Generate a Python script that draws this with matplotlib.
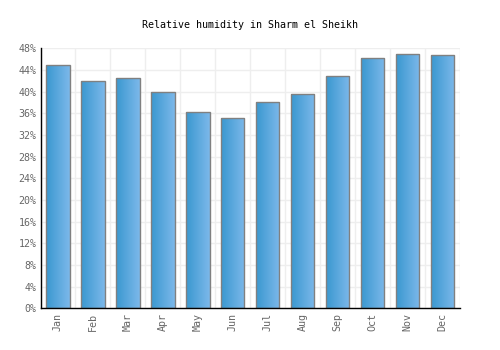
import matplotlib
matplotlib.use("Agg")
import matplotlib.pyplot as plt
import numpy as np
from matplotlib.colors import LinearSegmentedColormap

months = ["Jan", "Feb", "Mar", "Apr", "May", "Jun", "Jul", "Aug", "Sep", "Oct", "Nov", "Dec"]
humidity = [44.9, 41.9, 42.5, 39.9, 36.2, 35.1, 38.0, 39.5, 42.8, 46.2, 46.9, 46.7]
yticks = list(range(0, 49, 4))
ytick_labels = [f"{v}%" for v in yticks]

font = "DejaVu Sans Mono"
fig = plt.figure(figsize=(5, 3.5), dpi=100)
ax = fig.add_axes([0.081, 0.119, 0.839, 0.743])

x = np.arange(len(months))
bars = ax.bar(x, humidity, width=0.67, color="none", edgecolor="#808080", linewidth=1.0, zorder=3)
cmap = LinearSegmentedColormap.from_list("g", ["#3a98d0", "#7cb8ea"])
grad = np.linspace(0, 1, 64).reshape(1, -1)
for b in bars:
    x0, y0 = b.get_x(), b.get_y()
    w, h = b.get_width(), b.get_height()
    im = ax.imshow(grad, cmap=cmap, aspect="auto", extent=[x0, x0 + w, y0, y0 + h], zorder=2, interpolation="bilinear")
    im.set_clip_path(b)

ax.set_xlim(-0.5, 11.5)
ax.set_ylim(0, 48)
ax.set_yticks(yticks)
ax.set_yticklabels(ytick_labels, fontfamily=font, fontsize=7.2, color="#666666")
ax.set_xticks(x)
ax.set_xticklabels(months, rotation=90, fontfamily=font, fontsize=7.2, color="#666666")
ax.set_xticks(np.arange(-0.5, 12, 1), minor=True)
ax.grid(True, which="minor", axis="x", color="#eeeeee", linewidth=1, zorder=0)
ax.grid(True, which="major", axis="y", color="#eeeeee", linewidth=1, zorder=0)
ax.tick_params(axis="both", which="both", length=0, pad=3)
for s in ["top", "right"]:
    ax.spines[s].set_visible(False)
for s in ["left", "bottom"]:
    ax.spines[s].set_color("black")
    ax.spines[s].set_linewidth(1)
    ax.spines[s].set_zorder(4)
ax.set_axisbelow(True)

fig.text(0.5, 1 - 25 / 350, "Relative humidity in Sharm el Sheikh", ha="center", va="center",
         fontfamily=font, fontsize=7.2, color="black")

fig.savefig("out.png", dpi=100)
